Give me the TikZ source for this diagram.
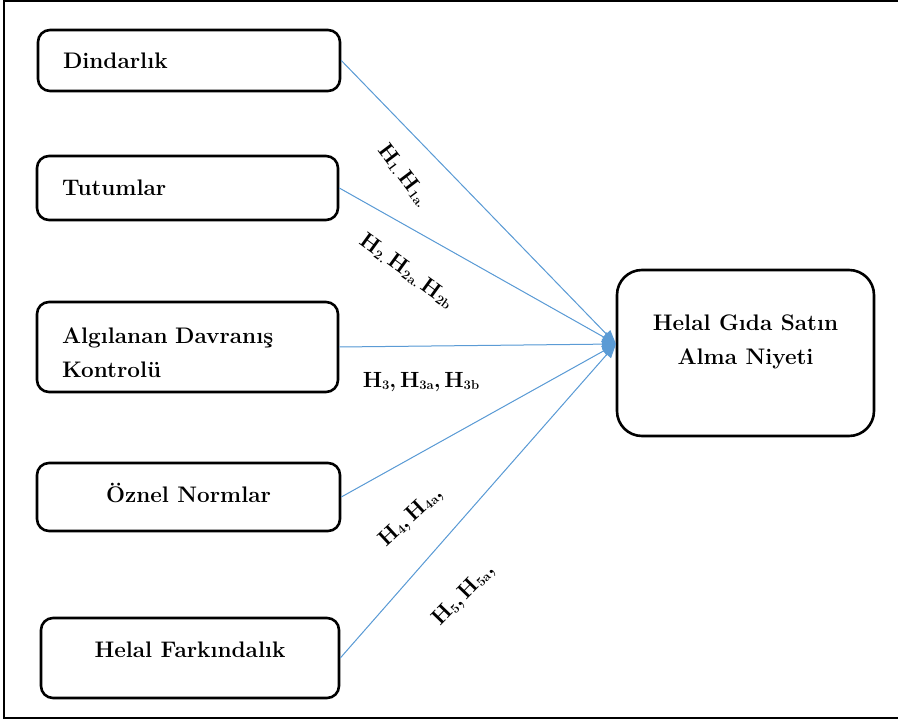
\documentclass[tikz,border=0pt]{standalone}
\usepackage{fontspec}
\usetikzlibrary{arrows.meta}
\definecolor{linkblue}{RGB}{91,155,213}
\newcommand{\hsub}[1]{\raisebox{-2pt}{\fontsize{13}{13}\selectfont #1}}

\begin{document}
\begin{tikzpicture}
            [x=1pt, y=-1pt, semithick,
             box/.style={shape=rectangle, draw=black, line width=2.6pt, rounded corners=12pt, font=\bfseries\fontsize{22.5}{34}\selectfont},
             leftbox/.style={box, align=left, inner xsep=25pt, inner ysep=2pt},
             midbox/.style={box, align=center, inner sep=2pt},
             hyp/.style={font=\bfseries\fontsize{22}{22}\selectfont, inner sep=0pt},
             link/.style={draw=linkblue, fill=linkblue, line width=1pt, -{Triangle[length=14pt,width=11pt]}}]
            \useasboundingbox (0,0) rectangle (898,719);
            \draw[line width=1.5pt] (4,1) rectangle (905,718);

            \node[leftbox, text width=252pt, minimum height=61pt] (din) at (189,60.5) {Dindarlık};
            \node[leftbox, text width=251pt, minimum height=64pt] (tut) at (187.5,188) {Tutumlar};
            \node[leftbox, text width=251pt, minimum height=90pt, text depth=23pt] (adk) at (187.5,347) {Algılanan Davranış\\Kontrolü};
            \node[midbox, minimum width=303pt, minimum height=68pt, text depth=9pt] (ozn) at (188.5,497) {Öznel Normlar};
            \node[midbox, minimum width=298pt, minimum height=80pt, text depth=17pt] (hf) at (190,658) {Helal Farkındalık};
            \node[midbox, rounded corners=25pt, minimum width=257pt, minimum height=166pt, text depth=27pt] (goal) at (745.5,353) {Helal Gıda Satın\\Alma Niyeti};
            \coordinate (hub) at (616,344);

            \draw [link] (din.east) -- (hub);
            \draw [link] (tut.east) -- (hub);
            \draw [link] (adk.east) -- (hub);
            \draw [link] (ozn.east) -- (hub);
            \draw [link] (hf.east) -- (hub);

            \node[hyp, rotate=-53] (h1) at (404,175) {H\hsub{1.}\,H\hsub{1a.}};
            \node[hyp, rotate=-36] (h2) at (407,271) {H\hsub{2.}\,H\hsub{2a.}\,H\hsub{2b}};
            \node[hyp] (h3) at (421,382) {H\hsub{3},\,H\hsub{3a},\,H\hsub{3b}};
            \node[hyp, rotate=43] (h4) at (411,517) {H\hsub{4},\,H\hsub{4a},};
            \node[hyp, rotate=46] (h5) at (464,595) {H\hsub{5},\,H\hsub{5a},};
        \end{tikzpicture}
\end{document}
